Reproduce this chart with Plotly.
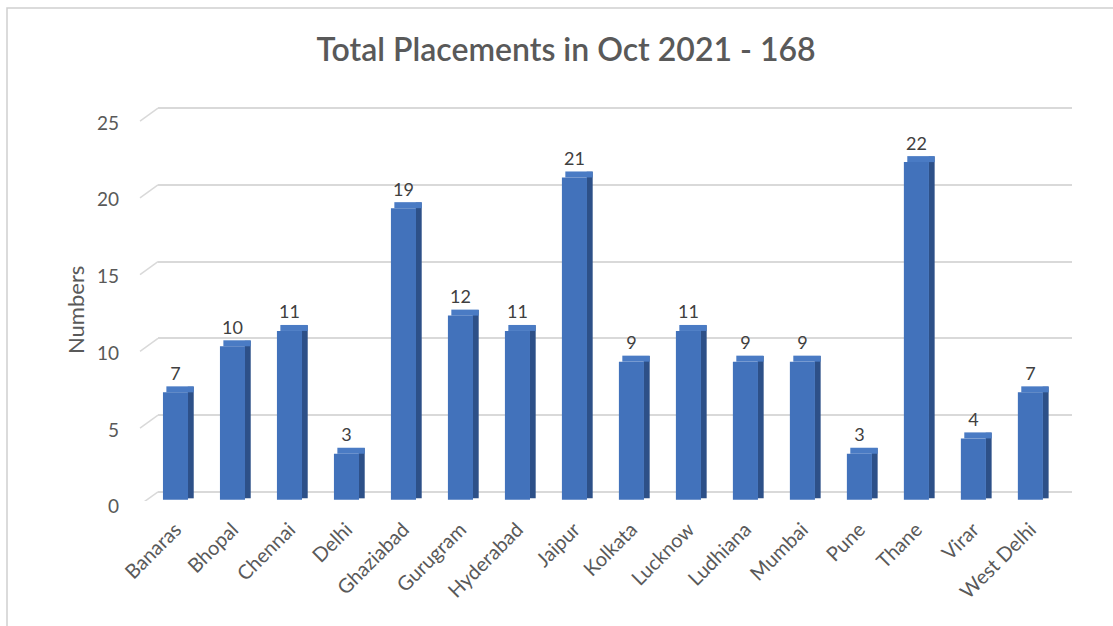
import plotly.graph_objects as go

cities = ["Banaras", "Bhopal", "Chennai", "Delhi", "Ghaziabad", "Gurugram", "Hyderabad",
          "Jaipur", "Kolkata", "Lucknow", "Ludhiana", "Mumbai", "Pune", "Thane", "Virar", "West Delhi"]
placements = [7, 10, 11, 3, 19, 12, 11, 21, 9, 11, 9, 9, 3, 22, 4, 7]
y_ticks = [0, 5, 10, 15, 20, 25]
title_text = "Total Placements in Oct 2021 - 168"
y_title = "Numbers"

# layout geometry (pixels)
W, H = 1113, 626
L, R, T, B = 158, 41, 107, 125
y_lo, y_hi = -0.6, 25.07
px_per_unit = (H - T - B) / (y_hi - y_lo)

# 3D-like offsets in data units
front_drop = 8 / px_per_unit
side_drop = 5 / px_per_unit
top_rise = 6 / px_per_unit
front_w = 0.44
side_w = 0.105

FONT = "Lato"
GRID = "#d9d9d9"
TXT = "#595959"

fig = go.Figure()

# side faces (darker)
fig.add_trace(go.Bar(
    x=cities, y=[v + front_drop - side_drop + top_rise * 0.2 for v in placements],
    base=[-side_drop - 0.1] * len(placements),
    offset=front_w / 2 - 0.005, width=side_w,
    marker=dict(color="#2d5088", line=dict(width=0)),
    hoverinfo="skip", showlegend=False,
))
# top faces (lighter)
fig.add_trace(go.Bar(
    x=cities, y=[top_rise] * len(placements),
    base=[v - front_drop for v in placements],
    offset=-front_w / 2 + 0.06, width=front_w + side_w - 0.065,
    marker=dict(color="#4a7bc4", line=dict(width=0)),
    hoverinfo="skip", showlegend=False,
))
# front faces
fig.add_trace(go.Bar(
    x=cities, y=placements,
    base=[-front_drop] * len(placements),
    offset=-front_w / 2, width=front_w,
    marker=dict(color="#4272bb", line=dict(width=0)),
    hovertemplate="%{x}: %{y}<extra></extra>", showlegend=False,
))
# value labels
fig.add_trace(go.Scatter(
    x=cities, y=placements, mode="text", text=[str(v) for v in placements],
    textposition="top center",
    textfont=dict(family=FONT, size=18, color="#404040"),
    hoverinfo="skip", showlegend=False, cliponaxis=False,
))

shapes = []
slant = 18 / (W - L - R)
for v in y_ticks:
    shapes.append(dict(type="line", xref="paper", yref="y",
                       x0=-slant, y0=v - 13 / px_per_unit, x1=0, y1=v,
                       line=dict(color=GRID, width=1.5)))
# chart border
shapes.append(dict(type="rect", xref="paper", yref="paper",
                   x0=(7 - L) / (W - L - R), x1=(W + 20 - L) / (W - L - R),
                   y0=-(B + 20) / (H - T - B),
                   y1=1 + (T - 8) / (H - T - B),
                   line=dict(color="#d0d0d0", width=1.5)))

fig.update_layout(
    width=W, height=H,
    margin=dict(l=L, r=R, t=T, b=B),
    paper_bgcolor="white", plot_bgcolor="white",
    barmode="overlay",
    title=dict(text=title_text, x=(566 - L) / (W - L - R), xref="paper", xanchor="center",
               y=1 - 50 / H, yanchor="middle",
               font=dict(family=FONT, size=32, color=TXT, weight=600)),
    xaxis=dict(range=[-0.307, 15.73], showgrid=False, zeroline=False, showline=False,
               tickangle=-45, ticks="", ticklabelstandoff=12,
               tickfont=dict(family=FONT, size=20, color=TXT)),
    yaxis=dict(range=[y_lo, y_hi], tickvals=y_ticks, showgrid=True, gridcolor=GRID,
               gridwidth=1.5, zeroline=False, showline=False, ticks="",
               ticklabelstandoff=38, ticklabelshift=15,
               tickfont=dict(family=FONT, size=19, color=TXT)),
    annotations=[dict(text=y_title, xref="paper", yref="paper",
                      x=(75 - L) / (W - L - R), y=(H - B - 310) / (H - T - B),
                      xanchor="center", yanchor="middle", textangle=-90, showarrow=False,
                      font=dict(family=FONT, size=22, color=TXT))],
    shapes=shapes,
    font=dict(family=FONT),
)

fig.write_html("out.html")
